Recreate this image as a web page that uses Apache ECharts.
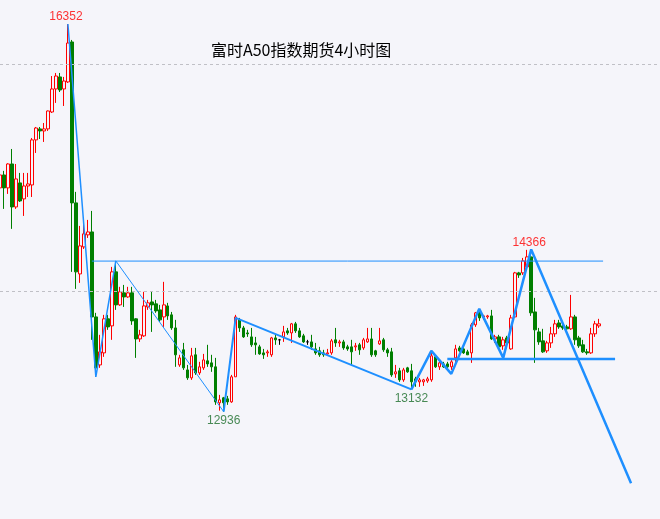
<!DOCTYPE html>
<html>
<head>
<meta charset="utf-8">
<script src="https://cdn.jsdelivr.net/npm/echarts@6/dist/echarts.min.js"></script>
<style>
html,body{margin:0;padding:0;background:#F5F5FA;}
#chart{width:660px;height:519px;}
</style>
</head>
<body>
<div id="chart"></div>
<script>
const chartTitle = '富时A50指数期货4小时图';
const slotCount = 166;
const categories = Array.from({length: slotCount}, (_, i) => String(i));
// [open, close, low, high]
const candles = [
[14908,15022,14820,15058],[15022,14908,14723,15058],[14908,15119,14855,15125],[15119,14740,14547,15251],
[14740,14987,14723,15119],[14952,14793,14784,15040],[14811,14925,14661,15040],[14925,14943,14828,15040],
[14934,15331,14828,15348],[15331,15436,15216,15445],[15428,15410,15339,15445],[15410,15428,15313,15480],
[15428,15586,15410,15590],[15577,15780,15568,15894],[15780,15894,15657,15921],[15886,15771,15753,15921],
[15780,15850,15630,15886],[15842,16185,15833,16352],[16194,14776,14168,16212],[14776,14168,14018,14873],
[14150,14397,14071,14573],[14388,14503,14370,14608],[14494,14520,14467,14626],[14520,13771,13569,14705],
[13771,13322,13243,13807],[13348,13463,13322,13613],[13454,13754,13419,13789],[13754,13683,13657,13789],
[13692,14168,13569,14212],[14168,13877,13833,14256],[13877,13992,13868,14036],[13983,13947,13859,14053],
[13947,13983,13939,14036],[13983,13736,13701,14036],[13754,13577,13410,13760],[13577,13613,13551,13657],
[13604,13868,13595,13992],[13859,13895,13833,13921],[13903,13877,13639,13992],[13886,13824,13807,13921],
[13833,13745,13727,13877],[13771,13877,13683,14080],[13868,13780,13745,13895],[13789,13674,13657,13815],
[13674,13437,13331,13745],[13348,13410,13331,13437],[13481,13322,13304,13542],[13304,13234,13216,13348],
[13234,13428,13216,13498],[13437,13278,13260,13498],[13278,13331,13260,13375],[13322,13392,13304,13445],
[13384,13357,13331,13525],[13366,13331,13287,13437],[13331,13022,12996,13410],[13014,13040,12945,13084],
[13058,13014,12936,13066],[13049,13022,12996,13075],[13022,13243,13014,13260],[13243,13771,13243,13789],
[13745,13674,13639,13762],[13674,13595,13586,13692],[13630,13622,13595,13657],[13595,13525,13507,13674],
[13542,13525,13437,13595],[13507,13445,13437,13525],[13454,13437,13401,13489],[13454,13463,13419,13481],
[13437,13586,13419,13595],[13586,13569,13525,13613],[13569,13569,13525,13577],[13595,13639,13551,13692],
[13648,13630,13613,13674],[13630,13710,13542,13718],[13710,13648,13630,13727],[13648,13595,13586,13674],
[13604,13551,13542,13622],[13551,13551,13525,13569],[13551,13507,13481,13613],[13489,13454,13437,13542],
[13472,13437,13419,13507],[13454,13437,13419,13481],[13445,13454,13437,13489],[13454,13560,13437,13577],
[13569,13542,13507,13674],[13542,13551,13507,13569],[13551,13498,13481,13569],[13507,13489,13472,13525],
[13507,13463,13348,13569],[13507,13516,13472,13542],[13525,13481,13437,13542],[13498,13569,13481,13586],
[13551,13577,13542,13674],[13577,13437,13419,13674],[13472,13437,13419,13481],[13533,13560,13525,13674],
[13569,13481,13463,13586],[13481,13454,13419,13498],[13463,13260,13243,13498],[13269,13287,13234,13348],
[13296,13216,13199,13322],[13216,13304,13199,13322],[13322,13287,13278,13331],[13296,13199,13132,13357],
[13225,13199,13155,13243],[13199,13216,13155,13234],[13199,13216,13163,13225],[13207,13225,13190,13243],
[13216,13428,13199,13472],[13419,13331,13322,13437],[13331,13366,13304,13392],[13357,13331,13322,13375],
[13357,13331,13322,13375],[13331,13375,13304,13392],[13410,13489,13375,13525],[13498,13472,13463,13516],
[13489,13454,13445,13507],[13463,13437,13437,13481],[13454,13701,13366,13718],[13701,13807,13683,13815],
[13807,13762,13736,13833],[13771,13780,13745,13789],[13771,13780,13754,13789],[13780,13577,13569,13833],
[13577,13595,13542,13613],[13595,13507,13498,13613],[13516,13569,13481,13595],[13586,13542,13525,13604],
[13489,13762,13481,13789],[13771,14159,13762,14168],[14159,14141,14115,14168],[14159,14265,14141,14291],
[14212,14300,14203,14362],[14300,13807,13780,14366],[13815,13657,13366,13939],[13639,13551,13525,13674],
[13560,13463,13454,13666],[13472,13542,13454,13560],[13542,13622,13498,13683],[13622,13710,13595,13745],
[13718,13683,13666,13745],[13692,13674,13657,13718],[13683,13666,13657,13701],[13666,13771,13657,13965],
[13771,13569,13525,13789],[13586,13516,13498,13604],[13525,13463,13454,13569],[13463,13454,13437,13489],
[13454,13622,13445,13674],[13622,13710,13595,13736],[13692,13710,13674,13754]
];
// trend lines: [slot index, price]
const zigA = [[17,16352],[24,13243],[29,14265]];
const zigB = [[29,14265],[56,12936]];
const zigC = [[56,12936],[59,13762],[103,13132]];
const zigD = [[103,13132],[108,13472],[113,13269],[120,13842],[126,13410],[133,14366],[158,12306]];
const resistance = [[23,14263],[151,14263]];
const support = [[112,13399],[154,13399]];
const highMarks = [[17,16352],[133,14366]];
const lowMarks = [[56,12936],[103,13132]];
const gridLevels = [14000, 16000];

const blue = '#1E8FFF';
function lineSeries(data, width) {
  return {type:'line', data: data, symbol:'none', clip:false, silent:true,
    lineStyle:{color:blue, width: width}, z: 5, animation:false};
}

const chart = echarts.init(document.getElementById('chart'), null, {renderer:'canvas'});
chart.setOption({
  backgroundColor:'#F5F5FA',
  animation:false,
  title:{text: chartTitle, left: 206, top: 37,
    textStyle:{fontSize:16, fontWeight:'normal', color:'#000', fontFamily:'Noto Sans CJK SC'}},
  grid:{left:-1, right:1, top:0, bottom:0},
  xAxis:{type:'category', data: categories, boundaryGap:false, show:false},
  yAxis:{type:'value', min:11990, max:16564, show:false, splitLine:{show:false}},
  series:[
    {type:'candlestick', data: candles, barWidth:3, clip:false, z:3,
      itemStyle:{color:'#F5F5FA', color0:'#007F00', borderColor:'#FF0000', borderColor0:'#007F00',
        borderColorDoji:'#000000', borderWidth:1},
      markLine:{silent:true, symbol:'none', label:{show:false},
        lineStyle:{color:'#c0c0c6', type:[3,3], width:1},
        data: gridLevels.map(v => ({yAxis: v}))}
    },
    lineSeries(zigA, 1.5),
    lineSeries(zigB, 1),
    lineSeries(zigC, 2),
    lineSeries(zigD, 2.5),
    lineSeries(resistance, 1),
    lineSeries(support, 2.5),
    {type:'scatter', data: highMarks, symbolSize:0, clip:false,
      label:{show:true, position:'top', distance:1, offset:[-2,0], color:'#FF0000', fontSize:12, fontFamily:'Liberation Sans',
        formatter: p => String(p.value[1])}},
    {type:'scatter', data: lowMarks, symbolSize:0, clip:false,
      label:{show:true, position:'bottom', distance:3, color:'#1b6e2a', fontSize:12, fontFamily:'Liberation Sans',
        formatter: p => String(p.value[1])}}
  ]
});
</script>
</body>
</html>
